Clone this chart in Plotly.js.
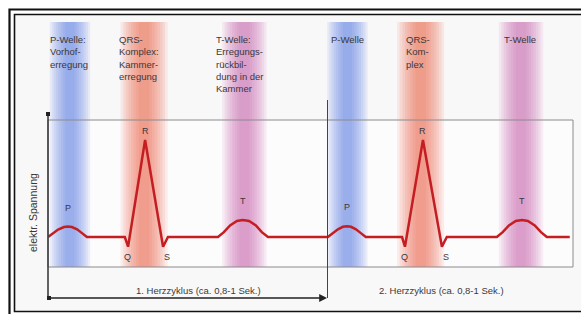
<!DOCTYPE html>
<html><head><meta charset="utf-8">
<script src="https://cdn.plot.ly/plotly-3.0.1.min.js"></script>
<style>html,body{margin:0;padding:0;background:#fff;}#chart{width:581px;height:314px;}</style>
</head><body><div id="chart"></div>
<script>
// ECG trace (time in ms, voltage in mV)
const timeMs = [0,15,31,49,61,73,89,104,119, 235,245,297,352,367,
  520,538,557,578,596,615,636,654,673,
  856,872,887,902,914,927,942,957,972,
  1083,1092,1147,1205,1220,
  1373,1391,1410,1431,1450,1468,1489,1508,1526, 1596];
const voltage = [0,0.04,0.077,0.103,0.108,0.103,0.08,0.04,0, 0,-0.10,1.0,-0.10,0,
  0,0.05,0.12,0.165,0.175,0.165,0.12,0.05,0,
  0,0.04,0.08,0.105,0.11,0.105,0.08,0.04,0,
  0,-0.10,1.0,-0.10,0,
  0,0.05,0.12,0.165,0.175,0.165,0.12,0.05,0, 0];

// wave letters
const waveLetters = ['P','Q','R','S','T','P','Q','R','S','T'];
const waveTimes   = [61,245,297,352,596,914,1092,1147,1205,1450];
const waveVolts   = [0.108,-0.10,1.0,-0.10,0.175,0.11,-0.10,1.0,-0.10,0.175];

// coloured bands behind the waves
const bandTimes = [67,294,601,916,1140,1447];
const bandKinds = ['P','QRS','T','P','QRS','T'];

// header labels
const topLabels = ['P-Welle:<br>Vorhof-<br>erregung',
  'QRS-<br>Komplex:<br>Kammer-<br>erregung',
  'T-Welle:<br>Erregungs-<br>rückbil-<br>dung in der<br>Kammer',
  'P-Welle',
  'QRS-<br>Kom-<br>plex',
  'T-Welle'];
const cycleLabels = ['1. Herzzyklus (ca. 0,8-1 Sek.)','2. Herzzyklus (ca. 0,8-1 Sek.)'];
const yLabel = 'elektr. Spannung';

// ---- layout helpers (pixel -> paper) ----
const W = 581, H = 314;
const px = x => x / W;
const py = y => 1 - y / H;
const FONT = 'Liberation Sans, Arial, sans-serif';
const TXT = '#3a383a';

const bandColor = {P:'95,130,228', QRS:'240,100,75', T:'200,100,170'};
const bandHalf = {P:62, QRS:72, T:68}; // ms
const shapes = [];
// background inside the frame
shapes.push({type:'rect', xref:'paper', yref:'paper', x0:px(14), x1:px(590), y0:py(14), y1:py(311),
  fillcolor:'#f9f8f9', line:{width:0}, layer:'below'});
shapes.push({type:'rect', xref:'paper', yref:'paper', x0:px(48), x1:px(573), y0:py(120), y1:py(267),
  fillcolor:'#fdfcfd', line:{width:0}, layer:'below'});
// bands (stacked translucent rects => soft gradient)
bandTimes.forEach((t,i) => {
  const k = bandKinds[i];
  const n = 8;
  for (let j = 0; j < n; j++) {
    const hw = bandHalf[k] * (1 - j / (n + 1));
    shapes.push({type:'rect', xref:'x', yref:'paper', x0:t - hw, x1:t + hw,
      y0:py(267), y1:py(22), fillcolor:'rgba(' + bandColor[k] + ',0.11)', line:{width:0}, layer:'below'});
  }
});
// plot box outline
shapes.push({type:'rect', xref:'paper', yref:'paper', x0:px(48), x1:px(573), y0:py(120), y1:py(267),
  line:{color:'#8c8a8c', width:1}, layer:'above'});
// left axis line
shapes.push({type:'line', xref:'paper', yref:'paper', x0:px(48), x1:px(48), y0:py(113), y1:py(298),
  line:{color:'#333', width:1.5}});
// divider between cycles
shapes.push({type:'line', xref:'paper', yref:'paper', x0:px(327.5), x1:px(327.5), y0:py(100), y1:py(298),
  line:{color:'#444', width:1}});
// end dots
[[48,114],[49,298]].forEach(p => shapes.push({type:'rect', xref:'paper', yref:'paper',
  x0:px(p[0]-2), x1:px(p[0]+2), y0:py(p[1]-2), y1:py(p[1]+2), fillcolor:'#222', line:{width:0}}));
// double frame
shapes.push({type:'rect', xref:'paper', yref:'paper', x0:px(9.5), x1:px(620), y0:py(9.5), y1:py(330),
  line:{color:'#111', width:2.2}});
shapes.push({type:'rect', xref:'paper', yref:'paper', x0:px(14.5), x1:px(620), y0:py(14.5), y1:py(311.5),
  line:{color:'#111', width:1.6}});

const annotations = [];
const topX = [48,117,214,329,404,502];
topLabels.forEach((t,i) => annotations.push({xref:'paper', yref:'paper', x:px(topX[i]), y:py(32),
  xanchor:'left', yanchor:'top', align:'left', text:t, showarrow:false,
  font:{family:FONT, size:9.5, color:TXT}}));
waveLetters.forEach((l,i) => {
  const below = (l === 'Q' || l === 'S');
  annotations.push({xref:'x', yref:'y', x:waveTimes[i] + (l==='S'?12:(l==='Q'?-2:0)), y:waveVolts[i],
    text:l, showarrow:false, xanchor:'center', yanchor: below ? 'top' : 'bottom',
    yshift: below ? -3 : (l === 'R' ? 2 : 12), font:{family:FONT, size:9, color:TXT}});
});
const cycX = [198,441];
cycleLabels.forEach((t,i) => annotations.push({xref:'paper', yref:'paper', x:px(cycX[i]), y:py(290),
  xanchor:'center', yanchor:'middle', text:t, showarrow:false, font:{family:FONT, size:9.5, color:TXT}}));
annotations.push({xref:'paper', yref:'paper', x:px(33), y:py(213), text:yLabel, textangle:-90,
  showarrow:false, xanchor:'center', yanchor:'middle', font:{family:FONT, size:10.5, color:TXT}});
// cycle arrow
annotations.push({xref:'paper', yref:'paper', x:px(327), y:py(298), axref:'pixel', ayref:'pixel',
  ax:-279, ay:0, text:'', showarrow:true, arrowhead:2, arrowsize:1.2, arrowwidth:1.3, arrowcolor:'#222'});

const trace = {x:timeMs, y:voltage, type:'scatter', mode:'lines',
  line:{color:'rgb(196,30,34)', width:2.5, shape:'linear'}, hoverinfo:'skip'};

const layout = {
  width:W, height:H, margin:{l:0,r:0,t:0,b:0},
  paper_bgcolor:'#ffffff', plot_bgcolor:'rgba(0,0,0,0)',
  showlegend:false,
  xaxis:{domain:[px(48), px(573)], range:[0,1606], visible:false, fixedrange:true},
  yaxis:{domain:[py(267), py(120)], range:[-0.309,1.206], visible:false, fixedrange:true},
  shapes:shapes, annotations:annotations
};
Plotly.newPlot('chart', [trace], layout, {staticPlot:true, displayModeBar:false});
</script></body></html>
